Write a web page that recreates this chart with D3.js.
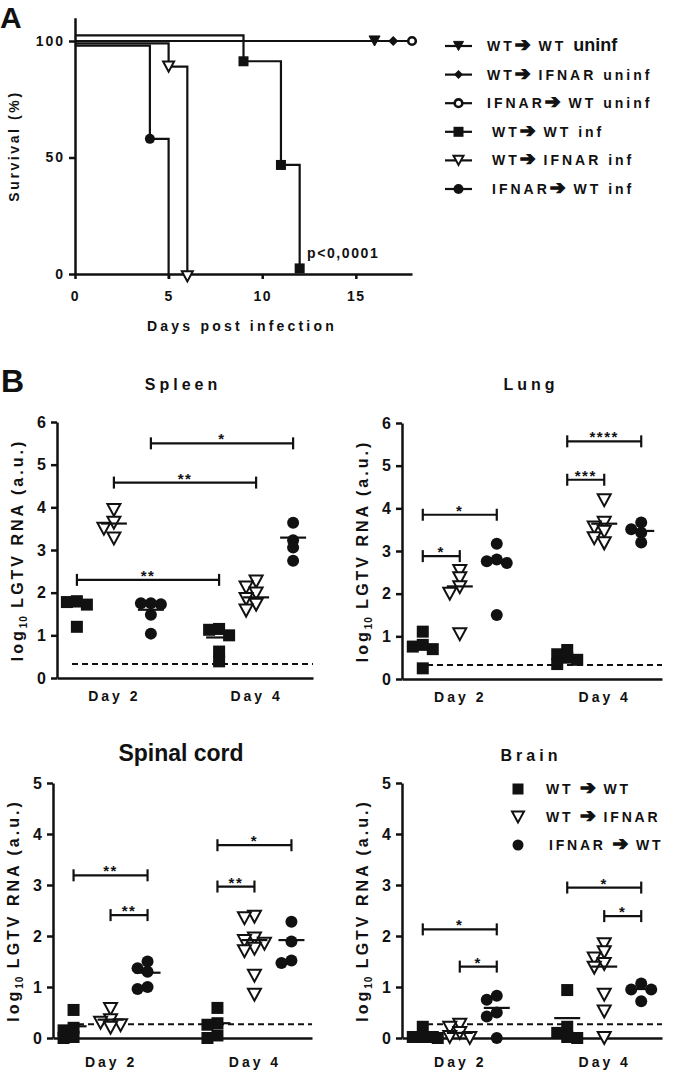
<!DOCTYPE html>
<html><head><meta charset="utf-8">
<script src="https://cdn.jsdelivr.net/npm/d3@7"></script>
<style>
body{margin:0;background:#fff}
text{font-family:"Liberation Sans",Arial,Helvetica,sans-serif;font-weight:bold;fill:#111}
</style>
</head><body>
<svg id="c" width="680" height="1074"></svg>
<script>
// ---------------- DATA: Panel A (survival) ----------------
const survNames  = ["WT➔ WT", "WT➔ IFNAR", "IFNAR➔ WT", "WT➔ WT", "WT➔ IFNAR", "IFNAR➔ WT"];
const survSuffix = ["uninf", "uninf", "uninf", "inf", "inf", "inf"];
const survSymbol = ["trifill", "diamond", "ocircle", "square", "tri", "circle"];
const survDays   = [[0, 16], [0, 17], [0, 18], [0, 9, 11, 12], [0, 5, 6], [0, 4, 5]];
const survPct    = [[100, 100], [100, 100], [100, 100], [100, 88.9, 44.4, 0], [100, 90, 0], [100, 60, 0]];
const survShift  = [0, 0, 0, 2.4, -1, -2];          // GraphPad-style offset of overlapping curves (%)
const survMarks  = [[1], [1], [1], [1, 2, 3], [1, 2], [1]];
const survXTicks = [0, 5, 10, 15];
const survYTicks = [0, 50, 100];
const survP      = "p<0,0001";

// ---------------- DATA: Panel B (viral RNA) ----------------
const days     = ["Day 2", "Day 4"];
const genotypes = ["WT ➔ WT", "WT ➔ IFNAR", "IFNAR ➔ WT"];
const genoSymbol = ["square", "tri", "circle"];
// groups order: D2 WT>WT, D2 WT>IFNAR, D2 IFNAR>WT, D4 WT>WT, D4 WT>IFNAR, D4 IFNAR>WT
const spleenValues = [[1.80, 1.78, 1.72, 1.20], [3.94, 3.64, 3.50, 3.27], [1.75, 1.75, 1.73, 1.48, 1.04],
                      [1.15, 1.13, 1.00, 0.62, 0.39], [2.26, 2.12, 1.98, 1.85, 1.72, 1.58], [3.64, 3.23, 3.06, 2.75]];
const spleenLines  = [1.68, 3.62, 1.60, 0.95, 1.89, 3.29];
const spleenSig    = [[0, 3, 2.30, "**"], [1, 4, 4.58, "**"], [2, 5, 5.50, "*"]];

const lungValues = [[1.11, 0.80, 0.76, 0.70, 0.25], [2.53, 2.36, 2.15, 2.00, 1.05], [3.17, 2.80, 2.76, 2.72, 1.50],
                    [0.68, 0.58, 0.50, 0.45, 0.35], [4.19, 3.66, 3.55, 3.45, 3.30, 3.18], [3.67, 3.51, 3.43, 3.20]];
const lungLines  = [0.79, 2.17, 2.78, 0.51, 3.64, 3.47];
const lungSig    = [[0, 1, 2.88, "*"], [0, 2, 3.85, "*"], [3, 4, 4.67, "***"], [3, 5, 5.57, "****"]];

const spinalValues = [[0.55, 0.20, 0.15, 0.02, 0.00], [0.57, 0.35, 0.30, 0.25, 0.20], [1.50, 1.37, 1.30, 1.00, 0.96],
                      [0.59, 0.29, 0.26, 0.05, 0.00], [2.38, 2.35, 1.95, 1.90, 1.85, 1.75, 1.70, 1.22, 0.85], [2.28, 1.89, 1.52, 1.47]];
const spinalLines  = [0.23, 0.36, 1.28, 0.29, 1.92, 1.92];
const spinalSig    = [[1, 2, 2.41, "**"], [0, 2, 3.19, "**"], [3, 4, 2.97, "**"], [3, 5, 3.78, "*"]];

const brainValues = [[0.22, 0.02, 0.02, 0.02, 0.00], [0.26, 0.20, 0.10, 0.02, 0.00], [0.83, 0.75, 0.50, 0.42, 0.00],
                     [0.94, 0.22, 0.10, 0.02, 0.00], [1.84, 1.68, 1.56, 1.45, 1.38, 0.85, 0.52, 0.00], [1.07, 0.95, 0.95, 0.72]];
const brainLines  = [0.03, 0.10, 0.59, 0.39, 1.40, 0.96];
const brainSig    = [[1, 2, 1.40, "*"], [0, 2, 2.13, "*"], [4, 5, 2.39, "*"], [3, 5, 2.95, "*"]];

const detectionLimit = [0.33, 0.33, 0.27, 0.27];

// ---------------- DRAWING ----------------
const svg = d3.select("#c");
const INK = "#111";

function sym(g, kind, x, y, s) {
  if (kind === "square") {
    g.append("rect").attr("x", x - s / 2).attr("y", y - s / 2).attr("width", s).attr("height", s).attr("fill", INK);
  } else if (kind === "circle") {
    g.append("circle").attr("cx", x).attr("cy", y).attr("r", s / 2).attr("fill", INK);
  } else if (kind === "tri" || kind === "trifill") {
    const w = s, h = s * 0.92;
    const p = d3.path();
    p.moveTo(x - w / 2, y - h / 2); p.lineTo(x + w / 2, y - h / 2); p.lineTo(x, y + h / 2); p.closePath();
    g.append("path").attr("d", p.toString())
      .attr("fill", kind === "tri" ? "#fff" : INK).attr("stroke", INK)
      .attr("stroke-width", kind === "tri" ? 2 : 1).attr("stroke-linejoin", "miter");
  } else if (kind === "diamond") {
    const p = d3.path();
    p.moveTo(x, y - s / 2); p.lineTo(x + s / 2, y); p.lineTo(x, y + s / 2); p.lineTo(x - s / 2, y); p.closePath();
    g.append("path").attr("d", p.toString()).attr("fill", INK);
  } else if (kind === "ocircle") {
    g.append("circle").attr("cx", x).attr("cy", y).attr("r", s / 2 - 1.2).attr("fill", "#fff")
      .attr("stroke", INK).attr("stroke-width", 2.6);
  }
}

// writes a label, enlarging and thickening the heavy arrow glyph
function arrowText(t, str, size) {
  const parts = str.split("➔");
  parts.forEach((p, i) => {
    if (p.length) t.append("tspan").text(p);
    if (i < parts.length - 1) t.append("tspan").attr("font-size", size * 1.35)
      .attr("font-family", '"DejaVu Sans",sans-serif').attr("stroke", INK).attr("stroke-width", 1.2)
      .style("letter-spacing", "1px").text("➔");
  });
}

function styleAxis(g) {
  g.selectAll(".domain").attr("stroke", INK).attr("stroke-width", 2.5);
  g.selectAll(".tick line").attr("stroke", INK).attr("stroke-width", 2.5);
  g.selectAll(".tick text").attr("fill", INK).attr("font-weight", "bold")
    .attr("font-family", '"Liberation Sans",Arial,sans-serif');
}

// ---- panel letters
svg.append("text").attr("x", 0).attr("y", 28).attr("font-size", 30).text("A");
svg.append("text").attr("x", 1).attr("y", 392).attr("font-size", 32).text("B");

// ---- Panel A
(function () {
  const x = d3.scaleLinear().domain([0, 18]).range([75, 412]);
  const y = d3.scaleLinear().domain([0, 110]).range([274, 17.7]);
  const gA = svg.append("g");

  const ax = gA.append("g").attr("transform", `translate(0,${y(0)})`)
    .call(d3.axisBottom(x).tickValues(survXTicks).tickSize(5).tickSizeOuter(0).tickPadding(12));
  styleAxis(ax);
  ax.selectAll(".tick text").attr("font-size", 14).style("letter-spacing", "1.5px");
  const ay = gA.append("g").attr("transform", `translate(${x(0)},0)`)
    .call(d3.axisLeft(y).tickValues(survYTicks).tickSize(6).tickSizeOuter(0).tickPadding(4));
  styleAxis(ay);
  ay.selectAll(".tick text").attr("font-size", 14).style("letter-spacing", "2px");
  gA.append("text").attr("x", 242).attr("y", 331).attr("text-anchor", "middle")
    .attr("font-size", 14).style("letter-spacing", "3.2px").text("Days post infection");
  gA.append("text").attr("transform", `translate(19,146) rotate(-90)`).attr("text-anchor", "middle")
    .attr("font-size", 14).style("letter-spacing", "2.6px").text("Survival (%)");

  const line = d3.line().curve(d3.curveStepAfter);
  survDays.forEach((dd, i) => {
    const pts = dd.map((d, j) => [x(d), y(survPct[i][j] + survShift[i])]);
    gA.append("path").attr("d", line(pts)).attr("fill", "none").attr("stroke", INK).attr("stroke-width", 2.2);
  });
  survDays.forEach((dd, i) => {
    survMarks[i].forEach(j => {
      const sz = survSymbol[i] === "tri" || survSymbol[i] === "trifill" ? 11 : 10;
      sym(gA, survSymbol[i], x(dd[j]), y(survPct[i][j] + survShift[i]), sz);
    });
  });
  gA.append("text").attr("x", 307).attr("y", 258).attr("font-size", 14).style("letter-spacing", "1.6px").text(survP);

  // legend
  const lg = gA.append("g");
  survNames.forEach((n, i) => {
    const yy = 46 + i * 28.6;
    const indent = i >= 3 ? 5 : 0;
    lg.append("line").attr("x1", 445).attr("x2", 472).attr("y1", yy).attr("y2", yy).attr("stroke", INK).attr("stroke-width", 2.2);
    sym(lg, survSymbol[i], 458.5, yy, survSymbol[i] === "diamond" ? 9 : 10);
    const t = lg.append("text").attr("x", 487 + indent).attr("y", yy + 5).attr("font-size", 14).style("letter-spacing", "3px");
    arrowText(t, n + " ", 14);
    if (i === 0) t.append("tspan").attr("font-size", 18).style("letter-spacing", "0px").text(" " + survSuffix[i]);
    else t.append("tspan").text(survSuffix[i]);
  });
})();

// ---- Panel B
const panels = [
  { title: "Spleen", vals: spleenValues, lines: spleenLines, sig: spleenSig, yMax: 6, x0: 57, x1: 313, yTop: 422, yBot: 678,
    tx: 183, ty: 390, tsize: 16, tls: 4, lx: 17, dl: detectionLimit[0], pad: 13 },
  { title: "Lung", vals: lungValues, lines: lungLines, sig: lungSig, yMax: 6, x0: 402, x1: 662, yTop: 423, yBot: 679,
    tx: 531, ty: 390, tsize: 16, tls: 4, lx: 362, dl: detectionLimit[1], pad: 13 },
  { title: "Spinal cord", vals: spinalValues, lines: spinalLines, sig: spinalSig, yMax: 5, x0: 53, x1: 312, yTop: 783, yBot: 1038,
    tx: 181, ty: 761, tsize: 23, tls: 0, lx: 13, dl: detectionLimit[2], pad: 19 },
  { title: "Brain", vals: brainValues, lines: brainLines, sig: brainSig, yMax: 5, x0: 402, x1: 662, yTop: 783, yBot: 1038,
    tx: 531, ty: 761, tsize: 16, tls: 4, lx: 362, dl: detectionLimit[3], pad: 19, legend: true }
];

panels.forEach(P => {
  const g = svg.append("g");
  const y = d3.scaleLinear().domain([0, P.yMax]).range([P.yBot, P.yTop]);
  const xd = d3.scalePoint().domain(days).range([P.x0, P.x1]).padding(0.4);
  const xg = d3.scalePoint().domain(genotypes).range([-37, 37]);
  const gx = i => xd(days[Math.floor(i / 3)]) + xg(genotypes[i % 3]);

  // axes
  const ay = g.append("g").attr("transform", `translate(${P.x0},0)`)
    .call(d3.axisLeft(y).ticks(P.yMax).tickSize(6).tickSizeOuter(0).tickPadding(5).tickFormat(d3.format("d")));
  styleAxis(ay);
  ay.selectAll(".tick text").attr("font-size", 16);
  const ax = g.append("g").attr("transform", `translate(0,${P.yBot})`)
    .call(d3.axisBottom(xd).tickSize(0).tickSizeOuter(0).tickPadding(P.pad));
  styleAxis(ax);
  ax.selectAll(".tick text").attr("font-size", 14).style("letter-spacing", "3px");

  // titles
  g.append("text").attr("x", P.tx).attr("y", P.ty).attr("text-anchor", "middle")
    .attr("font-size", P.tsize).style("letter-spacing", P.tls + "px").text(P.title);
  const yl = g.append("text").attr("transform", `translate(${P.lx + 6},${(P.yTop + P.yBot) / 2}) rotate(-90)`)
    .attr("text-anchor", "middle").attr("font-size", 16).style("letter-spacing", "3px");
  yl.append("tspan").text("log");
  yl.append("tspan").attr("font-size", 10).attr("dy", 4).style("letter-spacing", "1px").text("10");
  yl.append("tspan").attr("dy", -4).text(" LGTV RNA (a.u.)");

  // detection limit
  g.append("line").attr("x1", P.x0 + 15).attr("x2", P.x1).attr("y1", y(P.dl)).attr("y2", y(P.dl))
    .attr("stroke", INK).attr("stroke-width", 2).attr("stroke-dasharray", "6,4");

  // points with simple deterministic spreading
  P.vals.forEach((vals, gi) => {
    const cx = gx(gi);
    const kind = genoSymbol[gi % 3];
    const placed = [];
    const sorted = vals.slice().sort((a, b) => b - a);
    sorted.forEach(v => {
      const py = y(v);
      const offs = [0, -5, 5, -10, 10, -15, 15];
      let off = offs[offs.length - 1];
      for (const o of offs) {
        if (placed.every(p => Math.abs(p[0] - o) >= 7 || Math.abs(p[1] - py) >= 7)) { off = o; break; }
      }
      placed.push([off, py]);
    });
    placed.forEach(p => sym(g, kind, cx + p[0], p[1], kind === "tri" ? 13 : 12));
    g.append("line").attr("x1", cx - 13).attr("x2", cx + 13).attr("y1", y(P.lines[gi])).attr("y2", y(P.lines[gi]))
      .attr("stroke", INK).attr("stroke-width", 2.2);
  });

  // significance bars
  P.sig.forEach(s => {
    const xa = gx(s[0]), xb = gx(s[1]), yy = y(s[2]);
    g.append("line").attr("x1", xa).attr("x2", xb).attr("y1", yy).attr("y2", yy).attr("stroke", INK).attr("stroke-width", 2.2);
    [xa, xb].forEach(xx => g.append("line").attr("x1", xx).attr("x2", xx).attr("y1", yy - 6).attr("y2", yy + 6)
      .attr("stroke", INK).attr("stroke-width", 2.2));
    g.append("text").attr("x", (xa + xb) / 2).attr("y", yy + 1).attr("text-anchor", "middle")
      .attr("font-size", 15).style("letter-spacing", "1.5px").attr("font-weight", "normal").text(s[3]);
  });

  if (P.legend) {
    genotypes.forEach((n, i) => {
      const yy = 789 + i * 28;
      sym(g, genoSymbol[i], 518, yy, genoSymbol[i] === "tri" ? 12 : 11);
      const t = g.append("text").attr("x", 546 + (i === 2 ? 3 : 0)).attr("y", yy + 5).attr("font-size", 14)
        .style("letter-spacing", "2.8px");
      arrowText(t, n, 14);
    });
  }
});
</script>
</body></html>
